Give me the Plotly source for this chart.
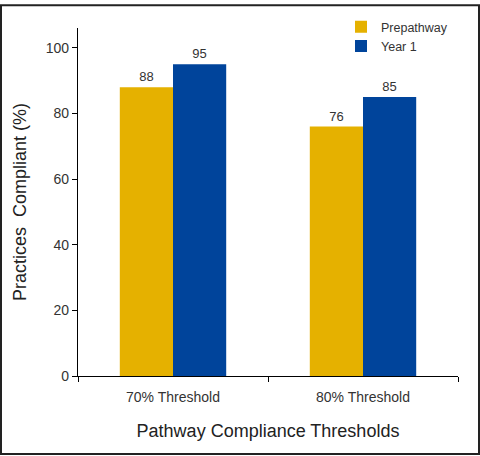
import plotly.graph_objects as go

categories = ["70% Threshold", "80% Threshold"]
prepathway = [88, 76]
year1 = [95, 85]
y_ticks = [0, 20, 40, 60, 80, 100]

W, H = 480, 456
L, R, T, B = 78, 22, 24, 80
pw, ph = W - L - R, H - T - B

font = "Liberation Sans, Arial, sans-serif"

fig = go.Figure()
fig.add_trace(go.Bar(name="Prepathway", x=categories, y=prepathway, marker_color="#E5B100",
                     marker_line_width=0, text=[str(v) for v in prepathway], textposition="outside",
                     textfont=dict(size=13, color="#333333"), cliponaxis=False))
fig.add_trace(go.Bar(name="Year 1", x=categories, y=year1, marker_color="#00449B",
                     marker_line_width=0, text=[str(v) for v in year1], textposition="outside",
                     textfont=dict(size=13, color="#333333"), cliponaxis=False))

fig.update_layout(
    width=W, height=H,
    margin=dict(l=L, r=R, t=T, b=B, pad=0),
    paper_bgcolor="white", plot_bgcolor="white",
    barmode="group", bargap=0.44, bargroupgap=0,
    font=dict(family=font, color="#222222"),
    showlegend=True,
    legend=dict(x=(341 - L) / pw, y=1 + (T - 8) / ph, xanchor="left", yanchor="top",
                font=dict(size=12.5, color="#333333"), bgcolor="rgba(0,0,0,0)",
                itemwidth=30, tracegroupgap=0),
    xaxis=dict(range=[-0.5, 1.5], showline=True, linecolor="black", linewidth=1.2,
               ticks="outside", tickson="boundaries", ticklen=5, tickcolor="black",
               tickfont=dict(size=14, color="#333333"), ticklabelstandoff=8,
               title=dict(text="Pathway Compliance Thresholds", font=dict(size=18, color="#222222"), standoff=20),
               showgrid=False, zeroline=False),
    yaxis=dict(range=[0, ph / 3.32], showline=True, linecolor="black", linewidth=1.2,
               ticks="outside", ticklen=5, tickcolor="black", tickvals=y_ticks,
               tickfont=dict(size=14, color="#333333"),
               title=dict(text="Practices  Compliant (%)", font=dict(size=18, color="#222222"), standoff=14),
               showgrid=False, zeroline=False),
    shapes=[dict(type="rect", xref="paper", yref="paper",
                 x0=(-L + 1) / pw, x1=1 + (R - 1) / pw, y0=(-B + 1) / ph, y1=1 + (T - 1) / ph,
                 line=dict(color="#222222", width=2))],
)

fig.write_html("out.html", config={"displayModeBar": False},
               post_script="document.body.style.margin='0';")
